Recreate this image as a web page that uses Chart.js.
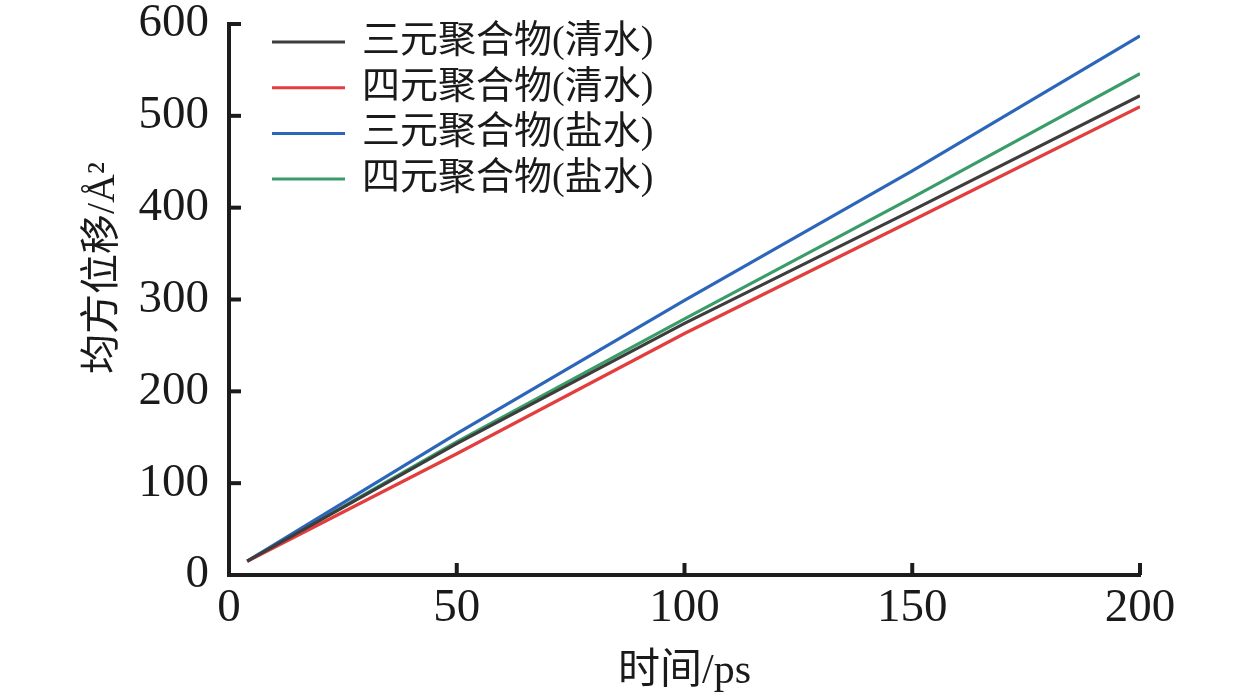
<!DOCTYPE html>
<html>
<head>
<meta charset="utf-8">
<script src="https://cdn.jsdelivr.net/npm/chart.js@4.4.0/dist/chart.umd.min.js"></script>
<style>
    html, body { margin: 0; padding: 0; background: #fff; }
    #wrap { width: 1260px; height: 697px; }
</style>
</head>
<body>
<div id="wrap"><canvas id="msdChart" width="1260" height="697"></canvas></div>
<script>
// Data
const timePs = [4, 50, 100, 150, 200];
const terClean = [15, 143, 274, 397, 522];   // 三元聚合物(清水)
const quatClean = [15, 132, 263, 386, 510];  // 四元聚合物(清水)
const terBrine = [15, 154, 299, 440, 587];   // 三元聚合物(盐水)
const quatBrine = [15, 145, 279, 411, 546];  // 四元聚合物(盐水)

const seriesLabels = ['三元聚合物(清水)', '四元聚合物(清水)', '三元聚合物(盐水)', '四元聚合物(盐水)'];
const seriesColors = ['#3d3d3d', '#e23e3e', '#2c66ba', '#3a9d69'];
const xTitle = '时间/ps';
const yTitle = '均方位移/Å²';

const FONT = '"Liberation Serif", "Noto Sans CJK SC", serif';
const AXIS_COLOR = '#1c1c1c';

function toPoints(values) {
    return values.map((v, i) => ({ x: timePs[i], y: v }));
}

// Inward tick marks
const inwardTicks = {
    id: 'inwardTicks',
    afterDraw(chart) {
        const ctx = chart.ctx;
        const { x, y } = chart.scales;
        const area = chart.chartArea;
        ctx.save();
        ctx.strokeStyle = AXIS_COLOR;
        ctx.lineWidth = 4;
        x.ticks.forEach(t => {
            const px = x.getPixelForValue(t.value);
            ctx.beginPath();
            ctx.moveTo(px, area.bottom);
            ctx.lineTo(px, area.bottom - 12);
            ctx.stroke();
        });
        y.ticks.forEach(t => {
            const py = y.getPixelForValue(t.value);
            ctx.beginPath();
            ctx.moveTo(area.left, py);
            ctx.lineTo(area.left + 12, py);
            ctx.stroke();
        });
        ctx.restore();
    }
};

// Legend in a column at the top left, plus the y title
const sideText = {
    id: 'sideText',
    afterDraw(chart) {
        const ctx = chart.ctx;
        ctx.save();
        ctx.font = '38px ' + FONT;
        ctx.textBaseline = 'middle';
        ctx.fillStyle = '#1a1a1a';
        chart.data.datasets.forEach((ds, i) => {
            const cy = 42 + i * 45.7;
            ctx.strokeStyle = ds.borderColor;
            ctx.lineWidth = 3;
            ctx.beginPath();
            ctx.moveTo(272, cy);
            ctx.lineTo(345, cy);
            ctx.stroke();
            ctx.fillText(ds.label, 362, cy);
        });

        ctx.translate(103, 268);
        ctx.rotate(-Math.PI / 2);
        ctx.font = '40px ' + FONT;
        ctx.textAlign = 'center';
        ctx.fillText(yTitle, 0, 0);
        ctx.restore();
    }
};

const datasets = [terClean, quatClean, terBrine, quatBrine].map((vals, i) => ({
    label: seriesLabels[i],
    data: toPoints(vals),
    borderColor: seriesColors[i],
    backgroundColor: seriesColors[i],
    borderWidth: 3.2,
    pointRadius: 0,
    tension: 0,
    fill: false
}));

new Chart(document.getElementById('msdChart').getContext('2d'), {
    type: 'line',
    data: { datasets: datasets },
    options: {
        responsive: false,
        animation: false,
        devicePixelRatio: 1,
        layout: { padding: { top: 24, right: 120, left: 0, bottom: 0 } },
        plugins: {
            legend: { display: false },
            tooltip: { enabled: false }
        },
        scales: {
            x: {
                type: 'linear',
                min: 0,
                max: 200,
                ticks: { stepSize: 50, color: '#1a1a1a', padding: 5, maxRotation: 0, font: { family: FONT, size: 47 } },
                grid: { display: false, drawTicks: false },
                border: { display: true, width: 4, color: AXIS_COLOR },
                title: { display: true, text: xTitle, color: '#1a1a1a', padding: { top: 7, bottom: 0 }, font: { family: FONT, size: 42 } },
                afterFit(scale) {
                    scale.height = 122;
                    scale.paddingLeft = 0;
                    scale.paddingRight = 0;
                }
            },
            y: {
                min: 0,
                max: 600,
                ticks: { stepSize: 100, color: '#1a1a1a', padding: 20, font: { family: FONT, size: 47 } },
                grid: { display: false, drawTicks: false },
                border: { display: true, width: 4, color: AXIS_COLOR },
                afterFit(scale) {
                    scale.width = 229;
                    scale.paddingTop = 0;
                    scale.paddingBottom = 0;
                }
            }
        }
    },
    plugins: [inwardTicks, sideText]
});
</script>
</body>
</html>
